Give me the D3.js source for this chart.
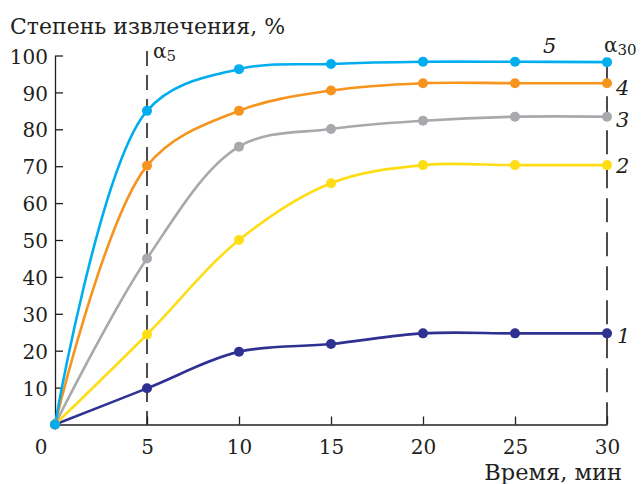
<!DOCTYPE html>
<html><head><meta charset="utf-8">
<script src="https://cdn.jsdelivr.net/npm/d3@7/dist/d3.min.js"></script>
<style>
html,body{margin:0;padding:0;background:#fff;}
svg{display:block;}
</style></head>
<body>
<svg id="chart" width="641" height="484"></svg>
<script>
const times = [0, 5, 10, 15, 20, 25, 30];
const series1 = [0, 9.8, 19.7, 21.8, 24.7, 24.7, 24.7];
const series2 = [0, 24.4, 50.0, 65.4, 70.3, 70.3, 70.3];
const series3 = [0, 45.0, 75.3, 80.1, 82.3, 83.4, 83.4];
const series4 = [0, 70.1, 85.0, 90.5, 92.5, 92.5, 92.5];
const series5 = [0, 85.0, 96.3, 97.7, 98.3, 98.3, 98.2];
const seriesNames = ["1", "2", "3", "4", "5"];
const seriesColors = ["#2e3192", "#ffdd15", "#a7a9ac", "#f7941d", "#00aeef"];
const xTicks = [5, 10, 15, 20, 25, 30];
const yTicks = [10, 20, 30, 40, 50, 60, 70, 80, 90, 100];
const yTitle = "Степень извлечения, %";
const xTitle = "Время, мин";

const FONT = "'DejaVu Serif', 'Liberation Serif', serif";
const FS = 20;
const allSeries = [series1, series2, series3, series4, series5];
const svg = d3.select("#chart").attr("font-family", FONT);
const x = d3.scaleLinear().domain([0, 30]).range([55, 607]);
const y = d3.scaleLinear().domain([0, 100]).range([424.5, 55.5]);
const ink = "#231f20";

// axes
const xAxis = d3.axisBottom(x).tickValues(xTicks).tickSize(-8).tickFormat(d3.format("d")).tickSizeOuter(0);
const gx = svg.append("g").attr("transform", `translate(0,${y(0)})`).call(xAxis);
gx.attr("font-family", FONT);
gx.select(".domain").attr("stroke", ink).attr("stroke-width", 1.3);
gx.selectAll(".tick line").attr("stroke", ink).attr("stroke-width", 1.3);
gx.selectAll(".tick text").attr("font-size", FS).attr("fill", ink).attr("dy", 0).attr("y", 29);

const yAxis = d3.axisLeft(y).tickValues(yTicks).tickSize(-8).tickFormat(d3.format("d")).tickSizeOuter(0);
const gy = svg.append("g").attr("transform", `translate(${x(0)},0)`).call(yAxis);
gy.attr("font-family", FONT);
gy.select(".domain").attr("stroke", ink).attr("stroke-width", 1.3);
gy.selectAll(".tick line").attr("stroke", ink).attr("stroke-width", 1.3);
gy.selectAll(".tick text").attr("font-size", FS).attr("fill", ink).attr("x", -7).attr("dy", "0.38em");

// origin label
svg.append("text").attr("x", x(0) - 14).attr("y", y(0) + 29).attr("text-anchor", "middle")
  .attr("font-size", FS).attr("fill", ink).text("0");

// dashed reference lines
svg.append("line").attr("x1", x(5)).attr("x2", x(5)).attr("y1", 51).attr("y2", y(0))
  .attr("stroke", ink).attr("stroke-width", 1.6).attr("stroke-dasharray", "15,9");
svg.append("line").attr("x1", x(30)).attr("x2", x(30)).attr("y1", y(series5[6])).attr("y2", y(0))
  .attr("stroke", ink).attr("stroke-width", 1.6).attr("stroke-dasharray", "24,10");

// lines
const line = d3.line().x((d, i) => x(times[i])).y(d => y(d)).curve(d3.curveCatmullRom.alpha(0.5));
allSeries.forEach((s, k) => {
  svg.append("path").datum(s).attr("d", line).attr("fill", "none")
    .attr("stroke", seriesColors[k]).attr("stroke-width", 2.6);
});
allSeries.forEach((s, k) => {
  svg.append("g").selectAll("circle").data(s).join("circle")
    .attr("cx", (d, i) => x(times[i])).attr("cy", d => y(d)).attr("r", 5)
    .attr("fill", seriesColors[k]);
});

// titles
svg.append("text").attr("x", 10).attr("y", 34).attr("font-size", 22).attr("fill", ink).text(yTitle);
svg.append("text").attr("x", 622).attr("y", 480).attr("text-anchor", "end").attr("font-size", 22.5).attr("fill", ink).text(xTitle);

// alpha labels
const a5 = svg.append("text").attr("x", 153).attr("y", 58).attr("font-size", FS).attr("fill", ink);
a5.append("tspan").text("α");
a5.append("tspan").attr("font-size", 15).attr("dy", 3).text("5");
const a30 = svg.append("text").attr("x", 604).attr("y", 52).attr("font-size", FS).attr("fill", ink);
a30.append("tspan").text("α");
a30.append("tspan").attr("font-size", 15).attr("dy", 3).text("30");

// series labels
const labelPos = [[617, 343], [616, 173], [616, 127], [616, 95], [543, 53]];
seriesNames.forEach((n, k) => {
  svg.append("text").attr("x", labelPos[k][0]).attr("y", labelPos[k][1])
    .attr("font-size", 21).attr("font-style", "italic").attr("fill", ink).text(n);
});
</script>
</body></html>
